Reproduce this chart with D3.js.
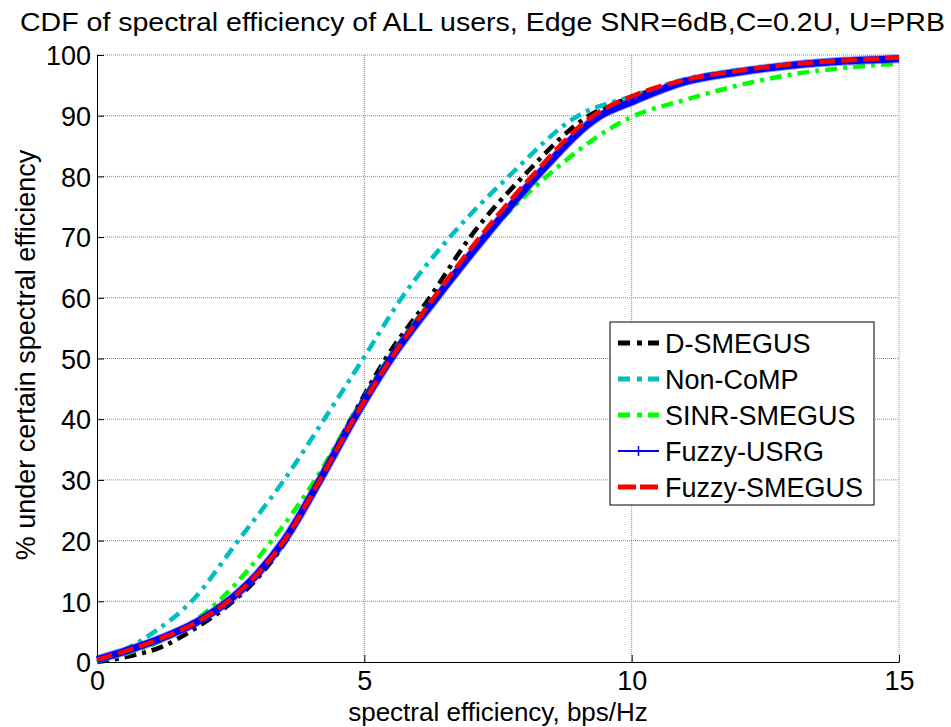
<!DOCTYPE html>
<html>
<head>
<meta charset="utf-8">
<script src="https://cdn.jsdelivr.net/npm/d3@7"></script>
<style>
  body { margin: 0; background: #fff; }
  text { font-family: Arial, "Liberation Sans", sans-serif; fill: #000; }
</style>
</head>
<body>
<div id="container"></div>
<script>
// CDF points [spectral efficiency, %]
const dSmegus = [[0,0],[0.58,0.9],[1.21,2.5],[1.83,5.5],[2.45,9.3],[3.0,13.8],[3.5,19.5],[4.15,30],[4.75,40],[5.4,50],[6.22,60],[6.98,70],[7.97,80],[9.2,90],[10,93],[11,95.8],[12,97.3],[13,98.3],[14,99],[15,99.5]];
const nonComp = [[0,0],[0.52,2],[1.08,5],[1.77,10],[2.64,20],[3.5,30],[4.25,40],[4.98,50],[5.7,60],[6.6,70],[7.7,80],[9.0,90],[10,93.2],[11,96],[12,97.5],[13,98.4],[14,99],[15,99.5]];
const sinrSmegus = [[0,0.2],[0.77,2],[1.52,5],[2.27,10],[3.27,20],[4.08,30],[4.75,40],[5.45,50],[6.3,60],[7.25,70],[8.41,80],[10,89.8],[11,92.6],[12,95],[13,96.8],[14,97.9],[15,98.6]];
const fuzzyUsrg = [[0,0.4],[0.6,2],[1.2,3.9],[1.83,6.4],[2.45,10],[3.0,14.5],[3.5,20],[4.17,30],[4.8,40],[5.5,50],[6.35,60],[7.25,70],[8.22,80],[9.41,90],[10,92.3],[11,95.6],[12,97.2],[13,98.3],[14,99],[15,99.4]];
const fuzzySmegus = [[0,0.4],[0.6,2],[1.2,3.9],[1.83,6.4],[2.45,10],[3.0,14.5],[3.5,20],[4.17,30],[4.8,40],[5.5,50],[6.3,60],[7.16,70],[8.13,80],[9.28,90],[10,93.2],[11,95.9],[12,97.4],[13,98.5],[14,99.1],[15,99.6]];

const seriesNames = ["D-SMEGUS", "Non-CoMP", "SINR-SMEGUS", "Fuzzy-USRG", "Fuzzy-SMEGUS"];
const xTicks = [0, 5, 10, 15];
const yTicks = [0, 10, 20, 30, 40, 50, 60, 70, 80, 90, 100];

const width = 951, height = 727;
const margin = {top: 55, right: 52, bottom: 65, left: 97};
const w = width - margin.left - margin.right;
const h = height - margin.top - margin.bottom;

const svg = d3.select("#container").append("svg")
  .attr("width", width).attr("height", height);

const g = svg.append("g").attr("transform", `translate(${margin.left},${margin.top})`);

const x = d3.scaleLinear().domain([0, 15]).range([0, w]);
const y = d3.scaleLinear().domain([0, 100]).range([h, 0]);

// grid
g.selectAll(".gx").data(xTicks.slice(1)).enter().append("line")
  .attr("x1", d => x(d)).attr("x2", d => x(d)).attr("y1", 0).attr("y2", h)
  .attr("stroke", "#8c8c8c").attr("stroke-dasharray", "1,1");
g.selectAll(".gy").data(yTicks.slice(1)).enter().append("line")
  .attr("x1", 0).attr("x2", w).attr("y1", d => y(d)).attr("y2", d => y(d))
  .attr("stroke", "#8c8c8c").attr("stroke-dasharray", "1,1");

// axes (matlab style inward ticks)
const xAxis = g.append("g").attr("transform", `translate(0,${h})`)
  .call(d3.axisBottom(x).tickValues(xTicks).tickSizeInner(-7).tickSizeOuter(0).tickPadding(9));
const yAxis = g.append("g")
  .call(d3.axisLeft(y).tickValues(yTicks).tickSizeInner(-7).tickSizeOuter(0).tickPadding(6));
[xAxis, yAxis].forEach(a => {
  a.select(".domain").attr("stroke", "#000");
  a.selectAll(".tick line").attr("stroke", "#000");
  a.selectAll(".tick text").style("font-size", "27px").attr("font-family", "Arial, 'Liberation Sans', sans-serif");
});
xAxis.selectAll(".tick text").attr("dy", "0.72em");
yAxis.selectAll(".tick text").attr("dy", "0.36em");

// lines
const line = d3.line().x(d => x(d[0])).y(d => y(d[1])).curve(d3.curveMonotoneX);

const styles = [
  {data: dSmegus, color: "#000000", width: 4.5, dash: "12,6,4,6"},
  {data: nonComp, color: "#00bfbf", width: 4.5, dash: "12,6,4,6"},
  {data: sinrSmegus, color: "#00ff00", width: 4.5, dash: "12,6,4,6"},
  {data: fuzzyUsrg, color: "#0000ff", width: 7, dash: null},
  {data: fuzzySmegus, color: "#ff0000", width: 4.5, dash: "16,6"}
];

styles.forEach(s => {
  if (s.dash === null) {
    g.append("path").datum(s.data).attr("d", line)
      .attr("fill", "none").attr("stroke", "#3030ff").attr("stroke-opacity", 0.45)
      .attr("stroke-width", s.width + 2);
  }
  g.append("path").datum(s.data).attr("d", line)
    .attr("fill", "none").attr("stroke", s.color)
    .attr("stroke-width", s.width)
    .attr("stroke-dasharray", s.dash);
});

// legend
const lg = svg.append("g").attr("transform", "translate(610,322)");
lg.append("rect").attr("width", 264).attr("height", 183)
  .attr("fill", "#fff").attr("stroke", "#000");
const ly = d3.scalePoint().domain(seriesNames).range([21, 165]);
seriesNames.forEach((name, i) => {
  const s = styles[i];
  const yy = ly(name);
  lg.append("line").attr("x1", 8).attr("x2", 49).attr("y1", yy).attr("y2", yy)
    .attr("stroke", s.color)
    .attr("stroke-width", s.dash === null ? 2 : 5)
    .attr("stroke-dasharray", s.dash === null ? null : (name === "Fuzzy-SMEGUS" ? "18,4" : "12,7,5,6"));
  if (s.dash === null) {
    lg.append("path").attr("d", `M${28.5},${yy - 5}V${yy + 5}M${24},${yy}H${33}`)
      .attr("stroke", s.color).attr("stroke-width", 1.5);
  }
  lg.append("text").attr("x", 55).attr("y", yy).attr("dy", "0.36em")
    .style("font-size", "27px").text(name);
});

// title and labels
svg.append("text").attr("x", 20).attr("y", 31)
  .attr("textLength", 925).attr("lengthAdjust", "spacingAndGlyphs")
  .style("font-size", "26px")
  .text("CDF of spectral efficiency of ALL users, Edge SNR=6dB,C=0.2U, U=PRB");

svg.append("text").attr("x", margin.left + w / 2).attr("y", 721)
  .attr("text-anchor", "middle").style("font-size", "26px")
  .text("spectral efficiency, bps/Hz");

svg.append("text")
  .attr("transform", "translate(35,355) rotate(-90)")
  .attr("text-anchor", "middle").style("font-size", "27px")
  .text("% under certain spectral efficiency");
</script>
</body>
</html>
